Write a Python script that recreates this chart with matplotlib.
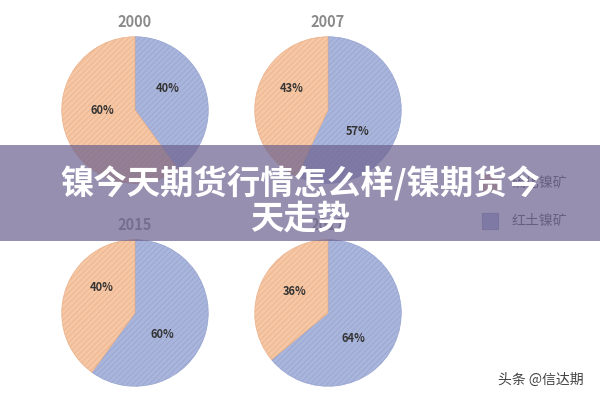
import matplotlib
matplotlib.use("Agg")
import matplotlib.pyplot as plt
from matplotlib.patches import Rectangle

plt.rcParams['font.family'] = ['Noto Sans CJK SC', 'DejaVu Sans']
plt.rcParams['hatch.linewidth'] = 0.5

years = ['2000', '2007', '2015', '2017']
laterite = [40, 57, 60, 64]   # 红土镍矿 (blue)
sulfide = [60, 43, 40, 36]    # 硫化镍矿 (orange)
legend_labels = ['硫化镍矿', '红土镍矿']
title = '镍今天期货行情怎么样/镍期货今\n天走势'

blue = '#aab5db'
orange = '#f6c7a4'
blue_edge = '#95a3d0'
orange_edge = '#eab08a'

fig = plt.figure(figsize=(6, 4), dpi=100)
fig.patch.set_facecolor('white')

centers = [(135, 110), (328, 110), (135, 313), (328, 313)]
r = 74
lab_pos = [((0.45, 0.3), (-0.45, 0.0)), ((0.4, -0.3), (-0.5, 0.3)),
           ((0.38, -0.3), (-0.45, 0.35)), ((0.35, -0.35), (-0.45, 0.3))]
for i, (cx, cy) in enumerate(centers):
    ax = fig.add_axes([(cx - r) / 600, 1 - (cy + r) / 400, 2 * r / 600, 2 * r / 400])
    wedges, texts = ax.pie([laterite[i], sulfide[i]], colors=[blue, orange],
                           startangle=90, counterclock=False)
    wedges[0].set_hatch('//////'); wedges[0].set_edgecolor(blue_edge)
    wedges[1].set_hatch('//////'); wedges[1].set_edgecolor(orange_edge)
    for w in wedges:
        w.set_linewidth(0.5)
    (bx, by), (ox, oy) = lab_pos[i]
    ax.text(bx, by, f'{laterite[i]}%', ha='center', va='center', fontsize=8,
            fontweight='bold', color='#333333')
    ax.text(ox, oy, f'{sulfide[i]}%', ha='center', va='center', fontsize=8,
            fontweight='bold', color='#333333')
    ax.set_xlim(-1.01, 1.01); ax.set_ylim(-1.01, 1.01)
    ax.set_aspect('equal')
    fig.text(cx / 600, 1 - (cy - r - 14) / 400, years[i], ha='center', va='center',
             fontsize=10.5, fontweight='bold', color='#8a8a8a', zorder=1)

for j, (lab, col, ec) in enumerate(zip(legend_labels, [orange, blue], [orange_edge, blue_edge])):
    y = 183 + j * 38
    fig.patches.append(Rectangle((482 / 600, 1 - (y + 8) / 400), 16 / 600, 16 / 400,
                                 transform=fig.transFigure, facecolor=col, edgecolor=ec, lw=0.8))
    fig.text(512 / 600, 1 - y / 400, lab, ha='left', va='center', fontsize=10, color='#555555')

fig.patches.append(Rectangle((0, 1 - 241 / 400), 1, 96 / 400, transform=fig.transFigure,
                             facecolor='#6e6490', alpha=0.72, edgecolor='none', zorder=5))
fig.text(0.5, 1 - 201 / 400, title, ha='center', va='center', fontsize=24,
         fontweight='heavy', color='white', linespacing=1.05, zorder=6)

fig.text(498 / 600, 1 - 380 / 400, '头条 @信达期', ha='left', va='center',
         fontsize=10, color='#444444')

fig.savefig('out.png', dpi=100)
